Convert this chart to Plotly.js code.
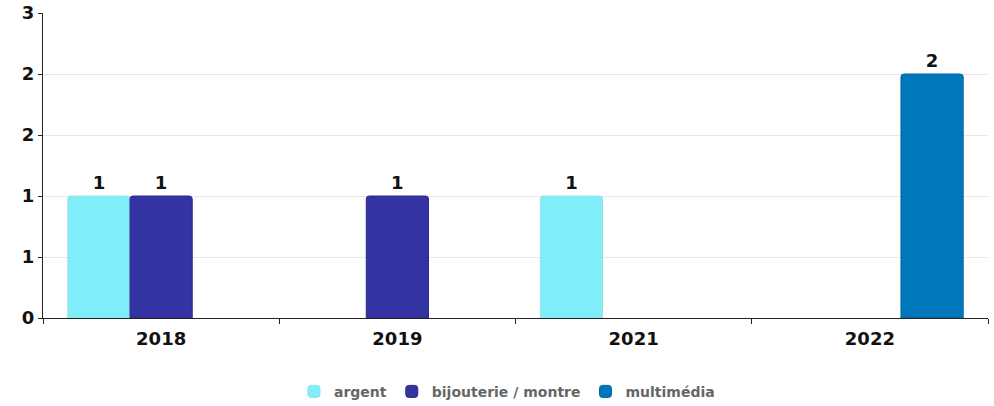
<!DOCTYPE html>
<html>
<head>
<meta charset="utf-8">
<script src="https://cdn.plot.ly/plotly-3.0.1.min.js"></script>
<style>html,body{margin:0;padding:0;background:#fff;}#chart{width:994px;height:406px;}</style>
</head>
<body>
<div id="chart"></div>
<script>
const categories = ["2018", "2019", "2021", "2022"];
const argent = [1, null, 1, null];
const bijouterie = [1, 1, null, null];
const multimedia = [null, null, null, 2];
const seriesNames = ["argent", "bijouterie / montre", "multimédia"];
const yTickVals = [0, 0.5, 1, 1.5, 2, 2.5];
const yTickText = ["0", "1", "1", "2", "2", "3"];

const colors = ["#80EEFA", "#3333A3", "#0077BB"];
const edgeColors = ["#9adfe6", "#2a2a85", "#00639c"];
const seriesData = [argent, bijouterie, multimedia];

const boldFont = (size, color) => ({family: "DejaVu Sans", size: size, color: color, weight: "bold"});

const traces = seriesData.map((vals, i) => ({
  type: "bar",
  name: seriesNames[i],
  x: categories,
  y: vals,
  text: vals.map(v => v == null ? "" : String(v)),
  textposition: "outside",
  cliponaxis: false,
  textfont: boldFont(18, "#111"),
  marker: {color: colors[i], cornerradius: 3, line: {width: 1, color: edgeColors[i]}},
  hoverinfo: "none"
}));

const layout = {
  width: 994, height: 406,
  margin: {l: 43, r: 6, t: 13, b: 88, autoexpand: false},
  paper_bgcolor: "#fff", plot_bgcolor: "#fff",
  barmode: "group",
  bargap: 0.21, bargroupgap: 0,
  showlegend: true,
  legend: {orientation: "h", xref: "container", x: 0.51, xanchor: "center", yref: "container", y: 0.035, yanchor: "middle",
    font: boldFont(14, "#666"), itemwidth: 30, tracegroupgap: 0},
  xaxis: {
    type: "category", showgrid: false, showline: true, linecolor: "#222", linewidth: 1,
    ticks: "outside", tickson: "boundaries", ticklen: 5, tickcolor: "#222",
    tickfont: boldFont(18, "#111"), ticklabelstandoff: 4,
    zeroline: false, fixedrange: true
  },
  yaxis: {
    range: [0, 2.5], tickvals: yTickVals, ticktext: yTickText,
    showgrid: true, gridcolor: "#e6e6e6", showline: true, linecolor: "#222", linewidth: 1,
    ticks: "outside", ticklen: 4, tickcolor: "#222",
    tickfont: boldFont(18, "#111"),
    zeroline: false, fixedrange: true
  }
};

Plotly.newPlot("chart", traces, layout, {displayModeBar: false, staticPlot: true});
</script>
</body>
</html>
